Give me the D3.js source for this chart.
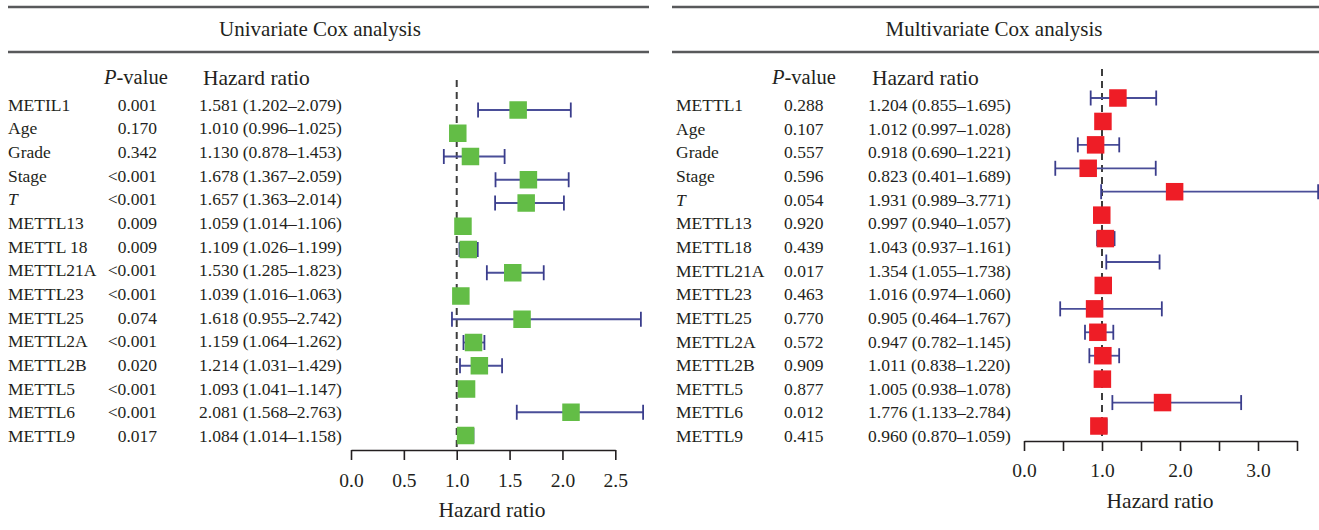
<!DOCTYPE html>
<html>
<head>
<meta charset="utf-8">
<script src="https://cdn.jsdelivr.net/npm/d3@7"></script>
<style>
  body { margin: 0; background: #fff; }
  svg { display: block; font-family: "Liberation Serif", "Times New Roman", serif; }
  text { fill: #231f20; }
</style>
</head>
<body>
<svg id="chart" width="1319" height="530"></svg>
<script>
// univariate
let uniNames = ["METIL1", "Age", "Grade", "Stage", "T", "METTL13", "METTL 18", "METTL21A", "METTL23", "METTL25", "METTL2A", "METTL2B", "METTL5", "METTL6", "METTL9"];
let uniP = ["0.001", "0.170", "0.342", "<0.001", "<0.001", "0.009", "0.009", "<0.001", "<0.001", "0.074", "<0.001", "0.020", "<0.001", "<0.001", "0.017"];
let uniHR = [1.581, 1.010, 1.130, 1.678, 1.657, 1.059, 1.109, 1.530, 1.039, 1.618, 1.159, 1.214, 1.093, 2.081, 1.084];
let uniLo = [1.202, 0.996, 0.878, 1.367, 1.363, 1.014, 1.026, 1.285, 1.016, 0.955, 1.064, 1.031, 1.041, 1.568, 1.014];
let uniHi = [2.079, 1.025, 1.453, 2.059, 2.014, 1.106, 1.199, 1.823, 1.063, 2.742, 1.262, 1.429, 1.147, 2.763, 1.158];
let uniTicks = [0, 0.5, 1, 1.5, 2, 2.5];
let uniNoBox = [];

// multivariate
let multiNames = ["METTL1", "Age", "Grade", "Stage", "T", "METTL13", "METTL18", "METTL21A", "METTL23", "METTL25", "METTL2A", "METTL2B", "METTL5", "METTL6", "METTL9"];
let multiP = ["0.288", "0.107", "0.557", "0.596", "0.054", "0.920", "0.439", "0.017", "0.463", "0.770", "0.572", "0.909", "0.877", "0.012", "0.415"];
let multiHR = [1.204, 1.012, 0.918, 0.823, 1.931, 0.997, 1.043, 1.354, 1.016, 0.905, 0.947, 1.011, 1.005, 1.776, 0.960];
let multiLo = [0.855, 0.997, 0.690, 0.401, 0.989, 0.940, 0.937, 1.055, 0.974, 0.464, 0.782, 0.838, 0.938, 1.133, 0.870];
let multiHi = [1.695, 1.028, 1.221, 1.689, 3.771, 1.057, 1.161, 1.738, 1.060, 1.767, 1.145, 1.220, 1.078, 2.784, 1.059];
let multiTicks = [0, 0.5, 1, 1.5, 2, 2.5, 3, 3.5];
// the published figure shows no square for this row
let multiNoBox = ["METTL21A"];

let svg = d3.select("#chart");
let f3 = d3.format(".3f");

let panels = [
  {
    title: "Univariate Cox analysis", names: uniNames, p: uniP, hr: uniHR, lo: uniLo, hi: uniHi, noBox: uniNoBox,
    ticks: uniTicks, tickFmt: d3.format(".1f"), domain: [0, 2.5], range: [351, 615.3],
    lineX: [8, 649], titleX: 320, axisY: 450, dashTop: 80, markY: [110, 435.5], textY: [104.5, 436],
    nameX: 8, pX: 157, pAnchor: "end", hrX: 199, hdrP: 104, hdrHR: 203,
    labelOff: 30, axisTitleX: 492, color: "#63bd46"
  },
  {
    title: "Multivariate Cox analysis", names: multiNames, p: multiP, hr: multiHR, lo: multiLo, hi: multiHi, noBox: multiNoBox,
    ticks: multiTicks, tickFmt: function(d) { return d % 1 === 0 ? d3.format(".1f")(d) : ""; },
    domain: [0, 3.5], range: [1024, 1297],
    lineX: [672, 1319], titleX: 994, axisY: 441, dashTop: 69, markY: [98, 426], textY: [105, 436],
    nameX: 676, pX: 784, pAnchor: "start", hrX: 868, hdrP: 772, hdrHR: 872,
    labelOff: 29, axisTitleX: 1160, color: "#ee1d26"
  }
];

panels.forEach(function(pn) {
  let g = svg.append("g");
  let idx = d3.range(pn.names.length);

  let x = d3.scaleLinear().domain(pn.domain).range(pn.range);
  let yMark = d3.scalePoint().domain(idx).range(pn.markY);
  let yText = d3.scalePoint().domain(idx).range(pn.textY);

  // title block
  [7, 52].forEach(function(y) {
    g.append("line")
      .attr("x1", pn.lineX[0]).attr("x2", pn.lineX[1])
      .attr("y1", y).attr("y2", y)
      .attr("stroke", "#58595b").attr("stroke-width", 2.5);
  });
  g.append("text")
    .attr("x", pn.titleX).attr("y", 29)
    .attr("dy", "0.35em").attr("text-anchor", "middle")
    .style("font-size", "21px")
    .text(pn.title);

  // column headers
  let hp = g.append("text")
    .attr("x", pn.hdrP).attr("y", 77).attr("dy", "0.35em")
    .style("font-size", "20.5px");
  hp.append("tspan").style("font-style", "italic").text("P");
  hp.append("tspan").text("-value");
  g.append("text")
    .attr("x", pn.hdrHR).attr("y", 77).attr("dy", "0.35em")
    .style("font-size", "21.5px")
    .text("Hazard ratio");

  // table rows
  g.selectAll(".name")
      .data(idx)
    .enter().append("text")
      .attr("x", pn.nameX)
      .attr("y", function(i) { return yText(i); })
      .attr("dy", "0.35em")
      .style("font-size", "17.5px")
      .style("font-style", function(i) { return pn.names[i] === "T" ? "italic" : null; })
      .text(function(i) { return pn.names[i]; });

  g.selectAll(".pval")
      .data(idx)
    .enter().append("text")
      .attr("x", pn.pX)
      .attr("y", function(i) { return yText(i); })
      .attr("dy", "0.35em")
      .attr("text-anchor", pn.pAnchor)
      .style("font-size", "17.5px")
      .text(function(i) { return pn.p[i]; });

  g.selectAll(".hr")
      .data(idx)
    .enter().append("text")
      .attr("x", pn.hrX)
      .attr("y", function(i) { return yText(i); })
      .attr("dy", "0.35em")
      .style("font-size", "17.5px")
      .text(function(i) { return f3(pn.hr[i]) + " (" + f3(pn.lo[i]) + "\u2013" + f3(pn.hi[i]) + ")"; });

  // reference line at HR = 1
  g.append("line")
    .attr("x1", x(1)).attr("x2", x(1))
    .attr("y1", pn.dashTop).attr("y2", pn.axisY)
    .attr("stroke", "#3d3d3d").attr("stroke-width", 2)
    .attr("stroke-dasharray", "7,5");

  // confidence intervals
  let ci = g.selectAll(".ci")
      .data(idx)
    .enter().append("g");
  ci.append("line")
    .attr("x1", function(i) { return x(pn.lo[i]); })
    .attr("x2", function(i) { return x(pn.hi[i]); })
    .attr("y1", function(i) { return yMark(i); })
    .attr("y2", function(i) { return yMark(i); })
    .attr("stroke", "#4a4e98").attr("stroke-width", 1.8);
  ["lo", "hi"].forEach(function(k) {
    ci.append("line")
      .attr("x1", function(i) { return x(pn[k][i]); })
      .attr("x2", function(i) { return x(pn[k][i]); })
      .attr("y1", function(i) { return yMark(i) - 7.5; })
      .attr("y2", function(i) { return yMark(i) + 7.5; })
      .attr("stroke", "#3a3d8c").attr("stroke-width", 1.8);
  });

  // hazard ratio squares
  let s = 17.5;
  g.selectAll(".box")
      .data(idx.filter(function(i) { return pn.noBox.indexOf(pn.names[i]) < 0; }))
    .enter().append("rect")
      .attr("x", function(i) { return x(pn.hr[i]) - s / 2; })
      .attr("y", function(i) { return yMark(i) - s / 2; })
      .attr("width", s).attr("height", s)
      .attr("fill", pn.color);

  // axis
  let axis = d3.axisBottom(x)
    .tickValues(pn.ticks)
    .tickFormat(pn.tickFmt)
    .tickSize(10)
    .tickSizeOuter(0);
  let ag = g.append("g")
    .attr("transform", "translate(0," + pn.axisY + ")")
    .call(axis);
  ag.select(".domain").attr("stroke", "#231f20").attr("stroke-width", 1.6);
  ag.selectAll(".tick line").attr("stroke", "#231f20").attr("stroke-width", 1.6);
  ag.selectAll(".tick text")
    .attr("y", pn.labelOff).attr("dy", "0.35em")
    .attr("fill", "#231f20")
    .style("font-family", "Liberation Serif, serif")
    .style("font-size", "19.5px");

  g.append("text")
    .attr("x", pn.axisTitleX).attr("y", pn.axisY + 59)
    .attr("dy", "0.35em").attr("text-anchor", "middle")
    .style("font-size", "21.5px")
    .text("Hazard ratio");
});
</script>
</body>
</html>
